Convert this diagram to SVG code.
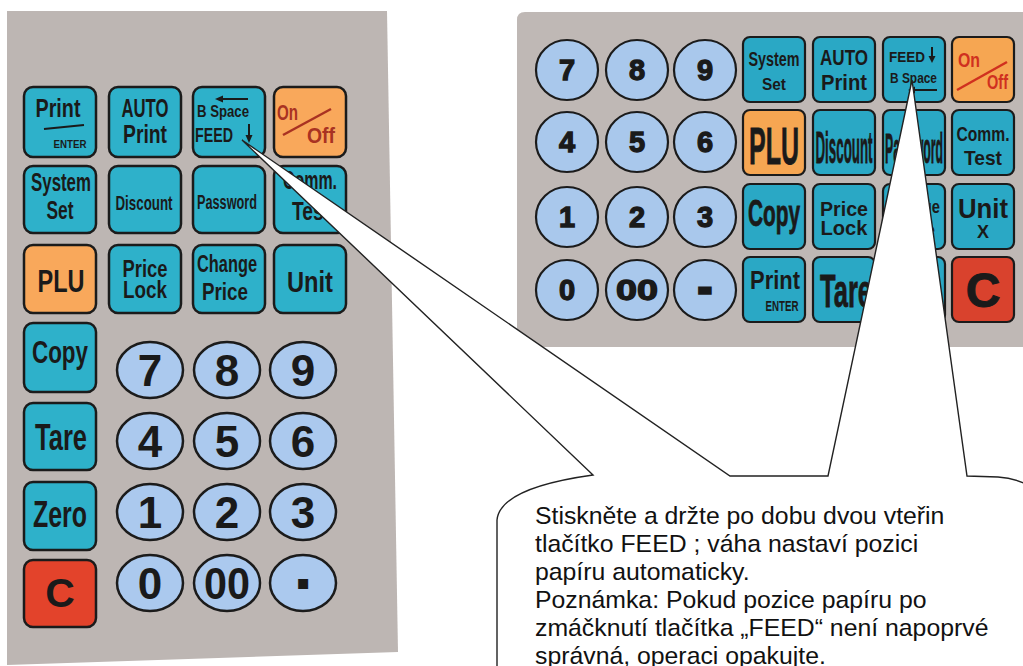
<svg xmlns="http://www.w3.org/2000/svg" width="1023" height="666" viewBox="0 0 1023 666">
<defs>
<style>
.panel{fill:#BDB6B3}
.lt{fill:#2EB1CA;stroke:#1b1b1b;stroke-width:2.5}
.lo{fill:#F9A85B;stroke:#1b1b1b;stroke-width:2.5}
.lr{fill:#E3432B;stroke:#1b1b1b;stroke-width:2.5}
.ln{fill:#ABC9EE;stroke:#1b1b1b;stroke-width:2.5}
.rt{fill:#2AA8C5;stroke:#1b1b1b;stroke-width:2.2}
.ro{fill:#F6A652;stroke:#1b1b1b;stroke-width:2.2}
.rr{fill:#D9422D;stroke:#1b1b1b;stroke-width:2.2}
.rn{fill:#A9C8EC;stroke:#1b1b1b;stroke-width:2.2}
.t{font-family:"Liberation Sans",Arial,sans-serif;font-weight:bold;fill:#1a1a1a;text-anchor:middle}
.s{text-anchor:start}
.ld{font-size:44px}
.rd{font-size:29px;stroke:#1a1a1a;stroke-width:1.3}
.th{stroke:#1a1a1a;stroke-width:0.8}
.ln2{stroke:#1a1a1a;stroke-width:2;fill:none}
.callout{fill:#ffffff;stroke:#222;stroke-width:1.4;stroke-linejoin:miter}
.note{font-family:"Liberation Sans",Arial,sans-serif;font-size:24.8px;fill:#111}
</style>
</defs>
<rect width="1023" height="666" fill="#ffffff"/>

<g id="left-keypad">
<polygon class="panel" points="7,11 387,11 398,652 7,665"/>
<g id="lk-print"><rect class="lt" x="24" y="87" width="72" height="70" rx="9"/><text class="t" x="58" y="117" font-size="25" textLength="45" lengthAdjust="spacingAndGlyphs">Print</text><line class="ln2" x1="44" y1="129" x2="84" y2="125"/><text class="t" x="70" y="148" font-size="10" textLength="33" lengthAdjust="spacingAndGlyphs">ENTER</text></g>
<g id="lk-auto"><rect class="lt" x="109" y="87" width="72" height="70" rx="9"/><text class="t" x="145" y="117" font-size="25" textLength="47" lengthAdjust="spacingAndGlyphs">AUTO</text><text class="t" x="145" y="143" font-size="25" textLength="44" lengthAdjust="spacingAndGlyphs">Print</text></g>
<g id="lk-feed"><rect class="lt" x="193" y="87" width="72" height="70" rx="9"/><text class="t" x="223" y="117" font-size="16" textLength="52" lengthAdjust="spacingAndGlyphs">B Space</text><line class="ln2" x1="221" y1="99" x2="248" y2="99"/><polygon points="215,99 223,95.5 223,102.5" fill="#1a1a1a"/><text class="t" x="214" y="142" font-size="20" textLength="38" lengthAdjust="spacingAndGlyphs">FEED</text><line class="ln2" x1="249" y1="124" x2="249" y2="137"/><polygon points="249,143 245.5,135 252.5,135" fill="#1a1a1a"/></g>
<g id="lk-onoff"><rect class="lo" x="274" y="87" width="72" height="70" rx="9"/><text class="t s" x="277" y="120" font-size="22" textLength="21" lengthAdjust="spacingAndGlyphs" style="fill:#A93222">On</text><line x1="283" y1="135" x2="331" y2="109" stroke="#A93222" stroke-width="2.5"/><text class="t s" x="307" y="143" font-size="22" textLength="28" lengthAdjust="spacingAndGlyphs" style="fill:#A93222">Off</text></g>

<g id="lk-system"><rect class="lt" x="24" y="166" width="72" height="67" rx="9"/><text class="t" x="61" y="191" font-size="26" textLength="60" lengthAdjust="spacingAndGlyphs">System</text><text class="t" x="60" y="219" font-size="26" textLength="27" lengthAdjust="spacingAndGlyphs">Set</text></g>
<g id="lk-discount"><rect class="lt" x="109" y="166" width="72" height="67" rx="9"/><text class="t" x="144" y="210" font-size="21" textLength="57" lengthAdjust="spacingAndGlyphs">Discount</text></g>
<g id="lk-password"><rect class="lt" x="193" y="166" width="72" height="67" rx="9"/><text class="t" x="227" y="209" font-size="20" textLength="60" lengthAdjust="spacingAndGlyphs">Password</text></g>
<g id="lk-comm"><rect class="lt" x="274" y="166" width="72" height="67" rx="9"/><text class="t" x="310" y="189" font-size="25" textLength="54" lengthAdjust="spacingAndGlyphs">Comm.</text><text class="t" x="311" y="220" font-size="25" textLength="38" lengthAdjust="spacingAndGlyphs">Test</text></g>

<g id="lk-plu"><rect class="lo" x="24" y="245" width="72" height="68" rx="9"/><text class="t" x="61" y="292" font-size="32" textLength="47" lengthAdjust="spacingAndGlyphs">PLU</text></g>
<g id="lk-pricelock"><rect class="lt" x="109" y="245" width="72" height="68" rx="9"/><text class="t" x="145" y="277" font-size="24" textLength="45" lengthAdjust="spacingAndGlyphs">Price</text><text class="t" x="145" y="298" font-size="24" textLength="44" lengthAdjust="spacingAndGlyphs">Lock</text></g>
<g id="lk-changeprice"><rect class="lt" x="193" y="245" width="72" height="68" rx="9"/><text class="t" x="227" y="272" font-size="24" textLength="60" lengthAdjust="spacingAndGlyphs">Change</text><text class="t" x="225" y="300" font-size="24" textLength="46" lengthAdjust="spacingAndGlyphs">Price</text></g>
<g id="lk-unit"><rect class="lt" x="274" y="245" width="72" height="68" rx="9"/><text class="t" x="310" y="292" font-size="30" textLength="46" lengthAdjust="spacingAndGlyphs">Unit</text></g>

<g id="lk-copy"><rect class="lt" x="24" y="323" width="72" height="69" rx="9"/><text class="t" x="60" y="363" font-size="31" textLength="56" lengthAdjust="spacingAndGlyphs">Copy</text></g>
<g id="lk-tare"><rect class="lt" x="24" y="403" width="72" height="67" rx="9"/><text class="t" x="61" y="450" font-size="37" textLength="52" lengthAdjust="spacingAndGlyphs">Tare</text></g>
<g id="lk-zero"><rect class="lt" x="24" y="482" width="72" height="68" rx="9"/><text class="t" x="60" y="527" font-size="36" textLength="54" lengthAdjust="spacingAndGlyphs">Zero</text></g>
<g id="lk-c"><rect class="lr" x="24" y="560" width="72" height="67" rx="9"/><text class="t" x="60" y="607" font-size="41">C</text></g>

<g id="ln-7"><ellipse class="ln" cx="150" cy="370" rx="33" ry="28"/><text class="t ld" x="150" y="386">7</text></g>
<g id="ln-8"><ellipse class="ln" cx="227" cy="370" rx="33" ry="28"/><text class="t ld" x="227" y="386">8</text></g>
<g id="ln-9"><ellipse class="ln" cx="303" cy="370" rx="33" ry="28"/><text class="t ld" x="303" y="386">9</text></g>
<g id="ln-4"><ellipse class="ln" cx="150" cy="441" rx="33" ry="28"/><text class="t ld" x="150" y="457">4</text></g>
<g id="ln-5"><ellipse class="ln" cx="227" cy="441" rx="33" ry="28"/><text class="t ld" x="227" y="457">5</text></g>
<g id="ln-6"><ellipse class="ln" cx="303" cy="441" rx="33" ry="28"/><text class="t ld" x="303" y="457">6</text></g>
<g id="ln-1"><ellipse class="ln" cx="150" cy="512" rx="33" ry="28"/><text class="t ld" x="150" y="528">1</text></g>
<g id="ln-2"><ellipse class="ln" cx="227" cy="512" rx="33" ry="28"/><text class="t ld" x="227" y="528">2</text></g>
<g id="ln-3"><ellipse class="ln" cx="303" cy="512" rx="33" ry="28"/><text class="t ld" x="303" y="528">3</text></g>
<g id="ln-0"><ellipse class="ln" cx="150" cy="583" rx="33" ry="28"/><text class="t ld" x="150" y="599">0</text></g>
<g id="ln-00"><ellipse class="ln" cx="227" cy="583" rx="33" ry="28"/><text class="t ld" x="227" y="599" textLength="46" lengthAdjust="spacingAndGlyphs">00</text></g>
<g id="ln-dot"><ellipse class="ln" cx="303" cy="583" rx="33" ry="28"/><text class="t" x="303" y="589" font-size="20" style="font-family:'DejaVu Sans',sans-serif">▪</text></g>
</g>

<g id="right-keypad">
<path class="panel" d="M525,12 H1023 V347 H517 V20 Q517,12 525,12 Z" style="fill:#BFB8B5"/>
<g id="rn-7"><ellipse class="rn" cx="567" cy="70" rx="31" ry="30"/><text class="t rd" x="567" y="80">7</text></g>
<g id="rn-8"><ellipse class="rn" cx="637" cy="70" rx="31" ry="30"/><text class="t rd" x="637" y="80">8</text></g>
<g id="rn-9"><ellipse class="rn" cx="705" cy="70" rx="31" ry="30"/><text class="t rd" x="705" y="80">9</text></g>
<g id="rn-4"><ellipse class="rn" cx="567" cy="142" rx="31" ry="30"/><text class="t rd" x="567" y="152">4</text></g>
<g id="rn-5"><ellipse class="rn" cx="637" cy="142" rx="31" ry="30"/><text class="t rd" x="637" y="152">5</text></g>
<g id="rn-6"><ellipse class="rn" cx="705" cy="142" rx="31" ry="30"/><text class="t rd" x="705" y="152">6</text></g>
<g id="rn-1"><ellipse class="rn" cx="567" cy="217" rx="31" ry="30"/><text class="t rd" x="567" y="227">1</text></g>
<g id="rn-2"><ellipse class="rn" cx="637" cy="217" rx="31" ry="30"/><text class="t rd" x="637" y="227">2</text></g>
<g id="rn-3"><ellipse class="rn" cx="705" cy="217" rx="31" ry="30"/><text class="t rd" x="705" y="227">3</text></g>
<g id="rn-0"><ellipse class="rn" cx="567" cy="290" rx="31" ry="30"/><text class="t rd" x="567" y="300">0</text></g>
<g id="rn-00"><ellipse class="rn" cx="637" cy="290" rx="31" ry="30"/><text class="t rd" x="637" y="300" textLength="42" lengthAdjust="spacingAndGlyphs">00</text></g>
<g id="rn-dash"><ellipse class="rn" cx="705" cy="290" rx="31" ry="30"/><text class="t" x="705" y="301" font-size="40" style="stroke:#1a1a1a;stroke-width:3.5">-</text></g>

<g id="rk-system"><rect class="rt" x="743" y="37" width="62" height="65" rx="7"/><text class="t" x="774" y="66" font-size="20" textLength="51" lengthAdjust="spacingAndGlyphs">System</text><text class="t" x="774" y="90" font-size="17" textLength="24" lengthAdjust="spacingAndGlyphs">Set</text></g>
<g id="rk-auto"><rect class="rt" x="813" y="37" width="62" height="65" rx="7"/><text class="t" x="844" y="65" font-size="22" textLength="48" lengthAdjust="spacingAndGlyphs">AUTO</text><text class="t" x="844" y="90" font-size="22" textLength="46" lengthAdjust="spacingAndGlyphs">Print</text></g>
<g id="rk-feed"><rect class="rt" x="883" y="37" width="62" height="65" rx="7"/><text class="t s" x="889" y="62" font-size="15" textLength="36" lengthAdjust="spacingAndGlyphs">FEED</text><line class="ln2" x1="932" y1="47" x2="932" y2="58"/><polygon points="932,63 928.5,56 935.5,56" fill="#1a1a1a"/><text class="t s" x="890" y="83" font-size="14" textLength="47" lengthAdjust="spacingAndGlyphs">B Space</text><line class="ln2" x1="914" y1="90" x2="937" y2="90"/><polygon points="908,90 915,86.5 915,93.5" fill="#1a1a1a"/></g>
<g id="rk-onoff"><rect class="ro" x="952" y="37" width="62" height="65" rx="7"/><text class="t s" x="958" y="67" font-size="20" textLength="22" lengthAdjust="spacingAndGlyphs" style="fill:#D0301F">On</text><line x1="957" y1="90" x2="1007" y2="62" stroke="#D0301F" stroke-width="2.5"/><text class="t s" x="987" y="89" font-size="20" textLength="21" lengthAdjust="spacingAndGlyphs" style="fill:#D0301F">Off</text></g>

<g id="rk-plu"><rect class="ro" x="743" y="110" width="62" height="65" rx="7"/><text class="t th" x="774" y="164" font-size="52" textLength="50" lengthAdjust="spacingAndGlyphs">PLU</text></g>
<g id="rk-discount"><rect class="rt" x="813" y="110" width="62" height="65" rx="7"/><text class="t th" x="844" y="163" font-size="44" textLength="57" lengthAdjust="spacingAndGlyphs">Discount</text></g>
<g id="rk-password"><rect class="rt" x="883" y="110" width="62" height="65" rx="7"/><text class="t th" x="914" y="163" font-size="42" textLength="58" lengthAdjust="spacingAndGlyphs">Password</text></g>
<g id="rk-comm"><rect class="rt" x="952" y="110" width="62" height="65" rx="7"/><text class="t" x="983" y="141" font-size="20" textLength="53" lengthAdjust="spacingAndGlyphs">Comm.</text><text class="t" x="983" y="165" font-size="21" textLength="38" lengthAdjust="spacingAndGlyphs">Test</text></g>

<g id="rk-copy"><rect class="rt" x="743" y="184" width="62" height="65" rx="7"/><text class="t th" x="774" y="226" font-size="36" textLength="52" lengthAdjust="spacingAndGlyphs">Copy</text></g>
<g id="rk-pricelock"><rect class="rt" x="813" y="184" width="62" height="65" rx="7"/><text class="t" x="844" y="216" font-size="20" textLength="48" lengthAdjust="spacingAndGlyphs">Price</text><text class="t" x="844" y="235" font-size="20" textLength="47" lengthAdjust="spacingAndGlyphs">Lock</text></g>
<g id="rk-changeprice"><rect class="rt" x="883" y="184" width="62" height="65" rx="7"/><text class="t" x="913" y="213" font-size="19" textLength="54" lengthAdjust="spacingAndGlyphs">Change</text><text class="t" x="913" y="236" font-size="19" textLength="44" lengthAdjust="spacingAndGlyphs">Price</text></g>
<g id="rk-unit"><rect class="rt" x="952" y="184" width="62" height="65" rx="7"/><text class="t" x="983" y="218" font-size="28" textLength="50" lengthAdjust="spacingAndGlyphs">Unit</text><text class="t" x="983" y="238" font-size="18" textLength="12" lengthAdjust="spacingAndGlyphs">X</text></g>

<g id="rk-print"><rect class="rt" x="743" y="257" width="62" height="65" rx="7"/><text class="t" x="775" y="289" font-size="26" textLength="50" lengthAdjust="spacingAndGlyphs">Print</text><text class="t" x="782" y="311" font-size="15" textLength="33" lengthAdjust="spacingAndGlyphs">ENTER</text></g>
<g id="rk-tare"><rect class="rt" x="813" y="257" width="62" height="65" rx="7"/><text class="t s th" x="820" y="307" font-size="46" textLength="52" lengthAdjust="spacingAndGlyphs">Tare</text></g>
<g id="rk-zero"><rect class="rt" x="883" y="257" width="62" height="65" rx="7"/></g>
<g id="rk-c"><rect class="rr" x="952" y="257" width="62" height="65" rx="7"/><text class="t" x="983" y="307" font-size="48" style="stroke:#1a1a1a;stroke-width:1">C</text></g>
</g>

<g id="connectors">
<path class="callout" d="M497,690 L497,520 Q500,488 593,475 L242,140 L730,476 L828,476 L912,80 L967,476 L998,477 Q1015,478 1030,486 L1030,690 Z"/>
</g>

<g id="note">
<text class="note" x="535" y="524">Stiskněte a držte po dobu dvou vteřin</text>
<text class="note" x="535" y="552">tlačítko FEED ; váha nastaví pozici</text>
<text class="note" x="535" y="580">papíru automaticky.</text>
<text class="note" x="535" y="608">Poznámka: Pokud pozice papíru po</text>
<text class="note" x="535" y="636">zmáčknutí tlačítka „FEED“ není napoprvé</text>
<text class="note" x="535" y="664">správná, operaci opakujte.</text>
</g>
</svg>
